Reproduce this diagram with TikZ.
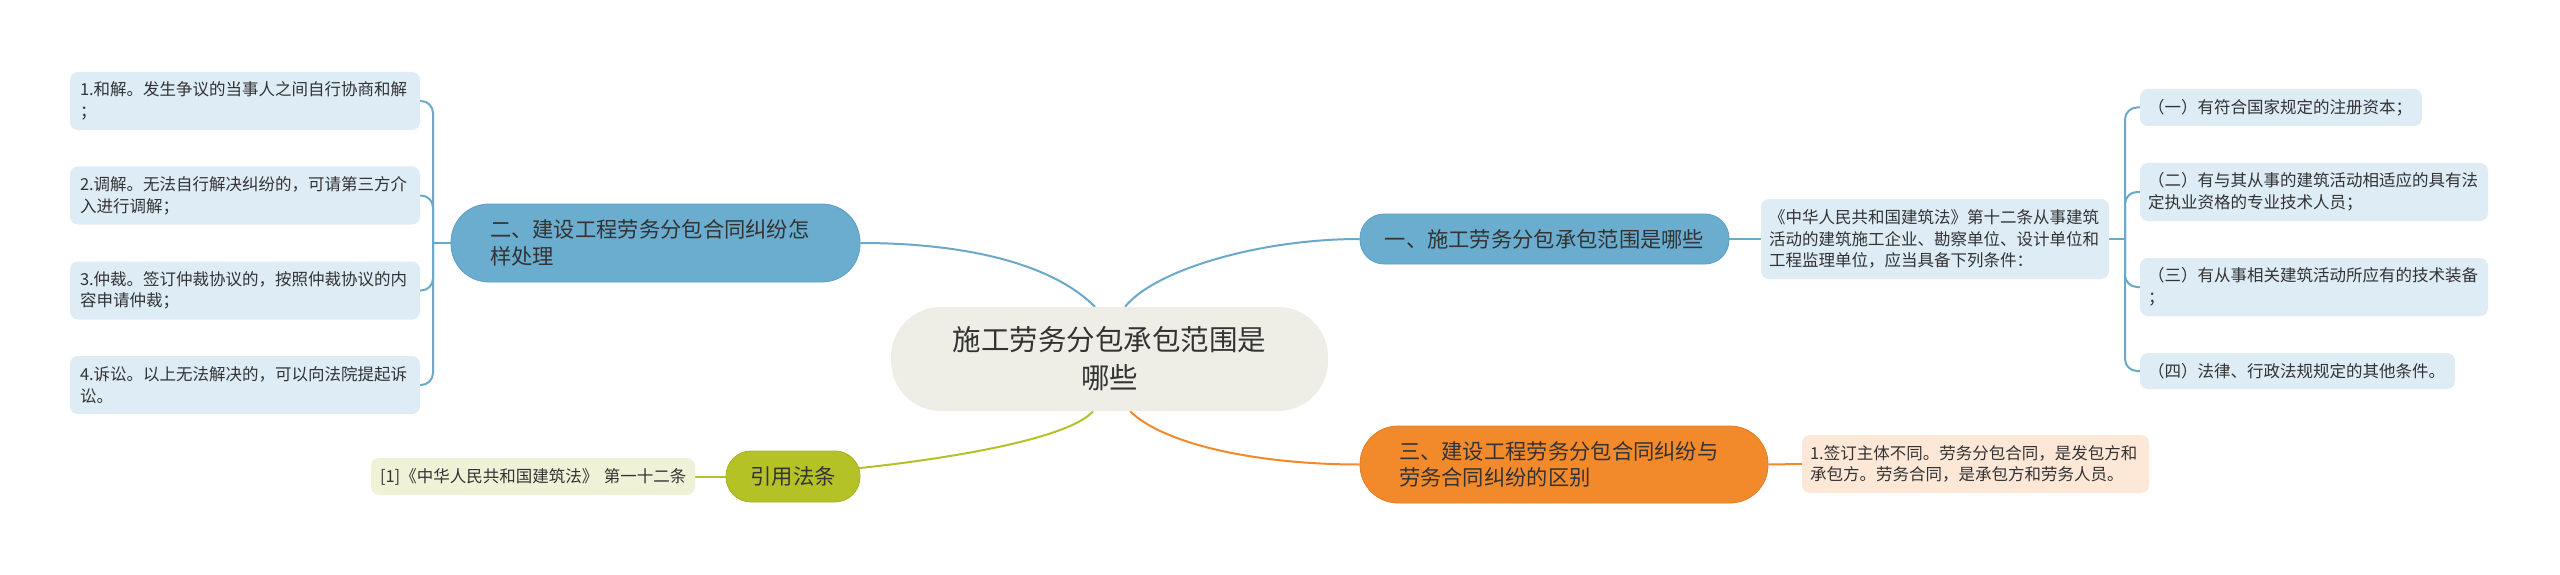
\documentclass[tikz,border=0pt]{standalone}
\usepackage{fontspec}
\newfontfamily\cjk{Noto Sans CJK SC}
\usetikzlibrary{backgrounds}
\definecolor{txt}{HTML}{333333}
\definecolor{bluemain}{HTML}{6AADCF}
\definecolor{blueedge}{HTML}{5E9FC2}
\definecolor{blueline}{HTML}{6AA9CA}
\definecolor{blueleaf}{HTML}{DEECF6}
\definecolor{centerfill}{HTML}{EEEEE6}
\definecolor{orangemain}{HTML}{F28A2C}
\definecolor{orangeedge}{HTML}{E27E24}
\definecolor{orangeleaf}{HTML}{FDE8D8}
\definecolor{olivemain}{HTML}{B5C225}
\definecolor{oliveedge}{HTML}{A6B21E}
\definecolor{oliveleaf}{HTML}{F0F2D8}
\begin{document}
\begin{tikzpicture}[x=1pt,y=-1pt,
  every node/.style={inner ysep=0pt, text=txt},
  leaf/.style={rounded corners=8pt, inner xsep=8pt, align=left, font=\cjk\fontsize{16.5}{21.7}\selectfont},
  pill/.style={inner xsep=0pt, font=\cjk\fontsize{21.3}{26.7}\selectfont},
  conn/.style={line width=2pt},
]
\useasboundingbox (0,0) rectangle (2560,575);

% central
\node[fill=centerfill, rounded corners=50pt, minimum width=437pt, minimum height=104pt,
      align=center, font=\cjk\fontsize{28.5}{38}\selectfont] (c) at (1109.5,359)
      {施工劳务分包承包范围是\\哪些};

% left branch
\node[pill, fill=bluemain, draw=blueedge, line width=0.8pt, rounded corners=38pt,
      text width=331pt, inner xsep=39pt, align=left, minimum height=78pt] (n2) at (655.5,243)
      {二、建设工程劳务分包合同纠纷怎\\样处理};
\node[leaf, fill=blueleaf, text width=330pt, inner xsep=10pt, minimum height=58pt] (l1) at (245,101)
      {1.和解。发生争议的当事人之间自行协商和解\\；};
\node[leaf, fill=blueleaf, text width=330pt, inner xsep=10pt, minimum height=58pt] (l2) at (245,195.5)
      {2.调解。无法自行解决纠纷的，可请第三方介\\入进行调解；};
\node[leaf, fill=blueleaf, text width=330pt, inner xsep=10pt, minimum height=58pt] (l3) at (245,290.5)
      {3.仲裁。签订仲裁协议的，按照仲裁协议的内\\容申请仲裁；};
\node[leaf, fill=blueleaf, text width=330pt, inner xsep=10pt, minimum height=58pt] (l4) at (245,385)
      {4.诉讼。以上无法解决的，可以向法院提起诉\\讼。};

% olive branch
\node[pill, fill=olivemain, draw=oliveedge, line width=0.8pt, rounded corners=25pt,
      minimum width=134pt, minimum height=51pt] (n4) at (793,476.5) {引用法条};
\node[leaf, fill=oliveleaf, text width=306pt, inner xsep=9pt, minimum height=37pt] (g1) at (533,476.5)
      {\mbox{[1]《中华人民共和国建筑法》 第一十二条}};

% right upper branch
\node[pill, fill=bluemain, draw=blueedge, line width=0.8pt, rounded corners=24pt,
      minimum width=369pt, minimum height=50pt] (n1) at (1544.5,239)
      {一、施工劳务分包承包范围是哪些};
\node[leaf, fill=blueleaf, text width=332pt, minimum height=80pt] (r0) at (1935,239)
      {《中华人民共和国建筑法》第十二条从事建筑\\活动的建筑施工企业、勘察单位、设计单位和\\工程监理单位，应当具备下列条件：};
\node[leaf, fill=blueleaf, text width=266pt, minimum height=37pt] (r1) at (2281,107.5)
      {（一）有符合国家规定的注册资本；};
\node[leaf, fill=blueleaf, text width=332pt, minimum height=58pt] (r2) at (2314,192)
      {（二）有与其从事的建筑活动相适应的具有法\\定执业资格的专业技术人员；};
\node[leaf, fill=blueleaf, text width=332pt, minimum height=58pt] (r3) at (2314,287)
      {（三）有从事相关建筑活动所应有的技术装备\\；};
\node[leaf, fill=blueleaf, text width=299pt, minimum height=36pt] (r4) at (2297.5,371)
      {（四）法律、行政法规规定的其他条件。};

% orange branch
\node[pill, fill=orangemain, draw=orangeedge, line width=0.8pt, rounded corners=38pt,
      text width=330pt, inner xsep=39pt, align=left, minimum height=77pt] (n3) at (1564,464.5)
      {三、建设工程劳务分包合同纠纷与\\劳务合同纠纷的区别};
\node[leaf, fill=orangeleaf, text width=331pt, minimum height=58pt] (o1) at (1975.5,464)
      {1.签订主体不同。劳务分包合同，是发包方和\\承包方。劳务合同，是承包方和劳务人员。};

\begin{pgfonlayer}{background}
  \fill[white] (0,0) rectangle (2560,575);
  % center curves
  \draw[conn, blueline] ([xshift=-14.5pt]c.north) .. controls +(-45,-45) and +(100,0) .. (n2.east);
  \draw[conn, blueline] ([xshift=15.5pt]c.north) .. controls +(30,-37) and +(-100,0) .. (n1.west);
  \draw[conn, olivemain] ([xshift=-16.5pt]c.south) .. controls +(-33,39) and +(100,0) .. (n4.west);
  \draw[conn, orangemain] ([xshift=20.5pt]c.south) .. controls +(35,34) and +(-100,0) .. (n3.west);
  % left bracket
  \coordinate (hl) at (433,243);
  \draw[conn, blueline] (n2.west) -- (hl);
  \foreach \i in {1,...,4} \draw[conn, blueline, rounded corners=12pt] (hl) |- (l\i.east);
  % right bracket
  \coordinate (hr) at (2125,239);
  \draw[conn, blueline] (r0.east) -- (hr);
  \foreach \i in {1,...,4} \draw[conn, blueline, rounded corners=12pt] (hr) |- (r\i.west);
  % simple links
  \draw[conn, blueline] (n1.east) -- (r0.west);
  \draw[conn, orangemain] (n3.east) -- (o1.west);
  \draw[conn, olivemain] (g1.east) -- (n4.west);
\end{pgfonlayer}
\end{tikzpicture}
\end{document}
